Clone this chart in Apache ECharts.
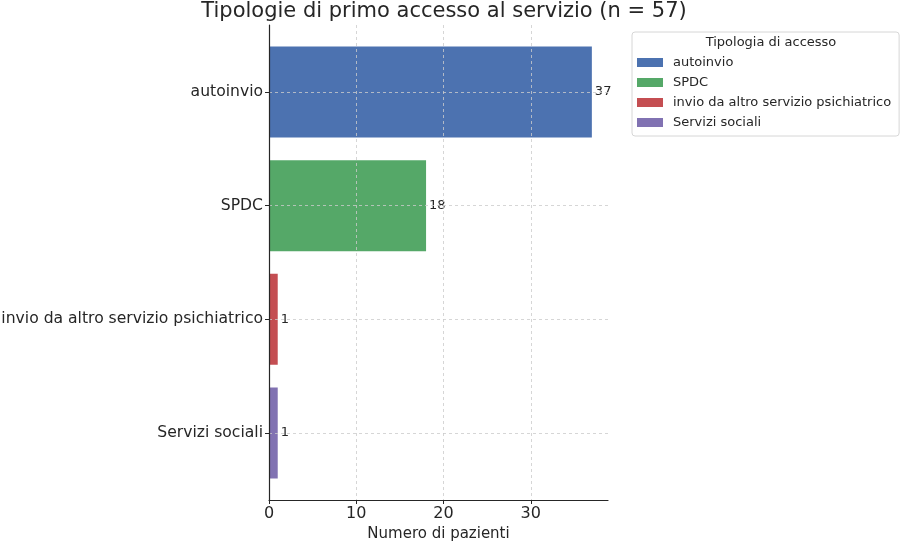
<!DOCTYPE html>
<html>
<head>
<meta charset="utf-8">
<script src="https://cdn.jsdelivr.net/npm/echarts@6/dist/echarts.min.js"></script>
<style>
  html, body { margin: 0; padding: 0; background: #fff; }
  #main { width: 902px; height: 542px; }
</style>
</head>
<body>
<div id="main"></div>
<script>
// dati
var categories = ['autoinvio', 'SPDC', 'invio da altro servizio psichiatrico', 'Servizi sociali'];
var counts = [37, 18, 1, 1];
var catTicks = [0, 1, 2, 3];
var xTicks = [0, 10, 20, 30];
var palette = ['#4c72b0', '#55a868', '#c44e52', '#8172b2'];

var chart = echarts.init(document.getElementById('main'));

// barre orizzontali disegnate con le scale degli assi
function renderBar(params, api) {
    var v = api.value(0);
    var idx = api.value(1);
    var p0 = api.coord([0, idx]);
    var p1 = api.coord([v, idx]);
    var h = api.size([0, 0.8])[1];
    return {
        type: 'group',
        children: [{
            type: 'rect',
            shape: { x: p0[0], y: p0[1] - h / 2, width: p1[0] - p0[0], height: h },
            style: { fill: api.visual('color') }
        }, {
            type: 'text',
            z2: 20,
            style: {
                x: p1[0] + 3, y: p1[1],
                text: String(v),
                fill: '#262626',
                font: '13px "DejaVu Sans"',
                verticalAlign: 'middle',
                align: 'left'
            }
        }]
    };
}

var series = categories.map(function (name, i) {
    return {
        name: name,
        type: 'custom',
        renderItem: renderBar,
        itemStyle: { color: palette[i] },
        encode: { x: 0, y: 1 },
        data: [[counts[i], i]],
        z: 2
    };
});

option = {
    animation: false,
    textStyle: { fontFamily: 'DejaVu Sans' },
    title: [{
        text: 'Tipologie di primo accesso al servizio (n = 57)',
        left: 439,
        textAlign: 'center',
        top: -4,
        textStyle: { fontSize: 21, fontWeight: 'normal', color: '#262626', fontFamily: 'DejaVu Sans' }
    }, {
        text: 'Tipologia di accesso',
        left: 766,
        textAlign: 'center',
        top: 31,
        textStyle: { fontSize: 13, fontWeight: 'normal', color: '#262626', fontFamily: 'DejaVu Sans' }
    }],
    legend: {
        orient: 'vertical',
        left: 632,
        top: 32,
        width: 268,
        data: categories,
        icon: 'rect',
        itemWidth: 26,
        itemHeight: 9,
        itemGap: 7,
        padding: [24, 8, 7, 5],
        borderColor: '#d6d6d6',
        borderWidth: 1,
        borderRadius: 3,
        selectedMode: false,
        textStyle: { fontSize: 13, color: '#262626', fontFamily: 'DejaVu Sans', padding: [0, 0, 0, 5], width: 230 }
    },
    grid: {
        left: 269,
        right: 294,
        top: 25,
        bottom: 42,
        outerBoundsMode: 'none',
        containLabel: false
    },
    xAxis: {
        type: 'value',
        min: 0,
        max: 38.85,
        z: 5,
        name: 'Numero di pazienti',
        nameLocation: 'middle',
        nameGap: 25,
        nameTextStyle: { fontSize: 15, color: '#262626', fontFamily: 'DejaVu Sans' },
        axisLine: { show: true, onZero: false, lineStyle: { color: '#262626', width: 1.2 } },
        axisTick: { show: true, length: 4, customValues: xTicks, lineStyle: { color: '#262626' } },
        axisLabel: { customValues: xTicks, fontSize: 16, color: '#262626', margin: 6, fontFamily: 'DejaVu Sans' },
        splitLine: { show: true, lineStyle: { color: '#cccccc', type: [3, 3], width: 0.8 } }
    },
    yAxis: {
        type: 'value',
        inverse: true,
        min: -0.59,
        max: 3.59,
        z: 5,
        axisLine: { show: true, onZero: false, lineStyle: { color: '#262626', width: 1.2 } },
        axisTick: { show: true, length: 4, customValues: catTicks, lineStyle: { color: '#262626' } },
        axisLabel: {
            customValues: catTicks,
            fontSize: 15.6,
            color: '#262626',
            margin: 6,
            fontFamily: 'DejaVu Sans',
            formatter: function (v) { return categories[v]; }
        },
        splitLine: { show: true, lineStyle: { color: '#cccccc', type: [3, 3], width: 0.8 } }
    },
    series: series
};
chart.setOption(option);
</script>
</body>
</html>
